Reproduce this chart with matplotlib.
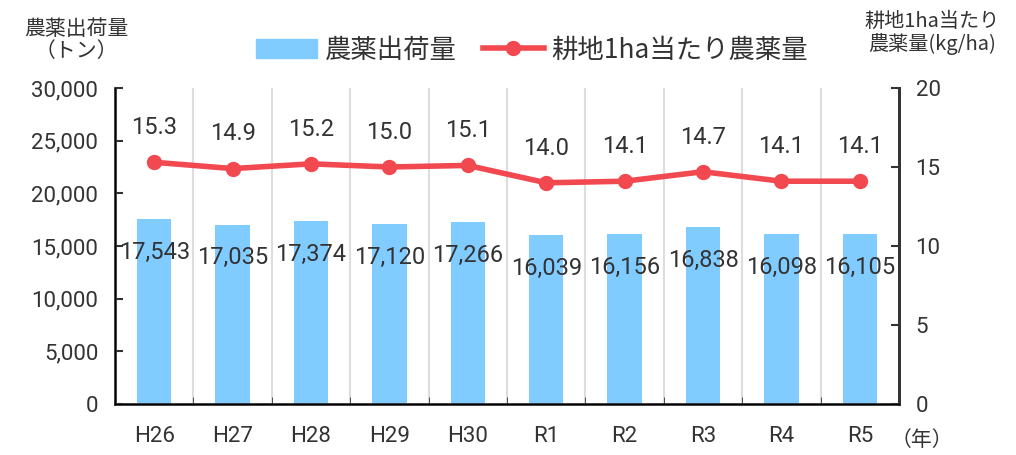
import matplotlib
matplotlib.use("Agg")
import matplotlib.pyplot as plt
import numpy as np
from matplotlib.patches import Patch
from matplotlib.lines import Line2D

plt.rcParams['font.family'] = ['Roboto', 'Noto Sans CJK JP', 'DejaVu Sans']

years = ["H26", "H27", "H28", "H29", "H30", "R1", "R2", "R3", "R4", "R5"]
shipments = [17543, 17035, 17374, 17120, 17266, 16039, 16156, 16838, 16098, 16105]
per_ha = [15.3, 14.9, 15.2, 15.0, 15.1, 14.0, 14.1, 14.7, 14.1, 14.1]

bar_color = "#80CBFF"
line_color = "#F2484F"
text_color = "#333333"

fig = plt.figure(figsize=(10.16, 4.55), dpi=100)
ax = fig.add_axes([115/1016, 1 - 404/455, (899-115)/1016, (404-88)/455])
x = np.arange(len(years))

ax.bar(x, shipments, width=0.44, color=bar_color, zorder=2)
ax.set_xlim(-0.5, len(years) - 0.5)
ax.set_ylim(0, 30000)
ax.set_yticks(range(0, 30001, 5000))
ax.set_yticklabels([f"{v:,}" for v in range(0, 30001, 5000)])
ax.set_xticks(x)
ax.set_xticklabels(years)
ax.set_xticks(np.arange(0.5, len(years) - 0.5, 1), minor=True)
ax.grid(axis="x", which="minor", color="#DDDDDD", linewidth=1.5, zorder=0)
ax.tick_params(axis="x", which="major", length=0, pad=16, labelsize=16, colors=text_color)
ax.tick_params(axis="x", which="minor", direction="in", length=5, color="#333333")
ax.tick_params(axis="y", direction="in", length=6, width=1.5, labelsize=16,
               colors=text_color, pad=12)
ax.spines["top"].set_visible(False)
for s in ["left", "bottom", "right"]:
    ax.spines[s].set_linewidth(2)
    ax.spines[s].set_color("#333333")

for xi, v in zip(x, shipments):
    ax.annotate(f"{v:,}", (xi, v), xytext=(0, -24), textcoords="offset points",
                ha="center", va="center", fontsize=17, color=text_color, zorder=4)

ax2 = ax.twinx()
ax2.plot(x, per_ha, color=line_color, linewidth=4, marker="o", markersize=10, zorder=3)
ax2.set_ylim(0, 20)
ax2.set_yticks(range(0, 21, 5))
ax2.tick_params(axis="y", direction="in", length=6, width=1.5, labelsize=16,
                colors=text_color, pad=12)
ax2.spines["top"].set_visible(False)
ax2.spines["right"].set_linewidth(2)
ax2.spines["right"].set_color("#333333")

for xi, v in zip(x, per_ha):
    ax2.annotate(f"{v:.1f}", (xi, v), xytext=(0, 25), textcoords="offset points",
                 ha="center", va="center", fontsize=17, color=text_color)

# 凡例
handles = [Patch(color=bar_color),
           Line2D([], [], color=line_color, linewidth=4, marker="o", markersize=10)]
fig.legend(handles, ["農薬出荷量", "耕地1ha当たり農薬量"], loc="center",
           bbox_to_anchor=(532/1016, 1 - 50/455), ncol=2, frameon=False,
           prop={"family": ["Noto Sans CJK JP"], "size": 19}, handlelength=2.3,
           columnspacing=1.0, handletextpad=0.3, labelcolor=text_color)

fig.text(76/1016, 1 - 40/455, "農薬出荷量\n（トン）", ha="center", va="center",
         fontsize=15, color=text_color, family=["Noto Sans CJK JP"], linespacing=1.05)
fig.text(932/1016, 1 - 33/455, "耕地1ha当たり\n農薬量(kg/ha)", ha="center", va="center",
         fontsize=14.5, color=text_color, family=["Noto Sans CJK JP"], linespacing=1.1)
fig.text(922/1016, 1 - 440/455, "（年）", ha="center", va="center",
         fontsize=15, color=text_color, family=["Noto Sans CJK JP"])

fig.savefig("out.png", dpi=100)
